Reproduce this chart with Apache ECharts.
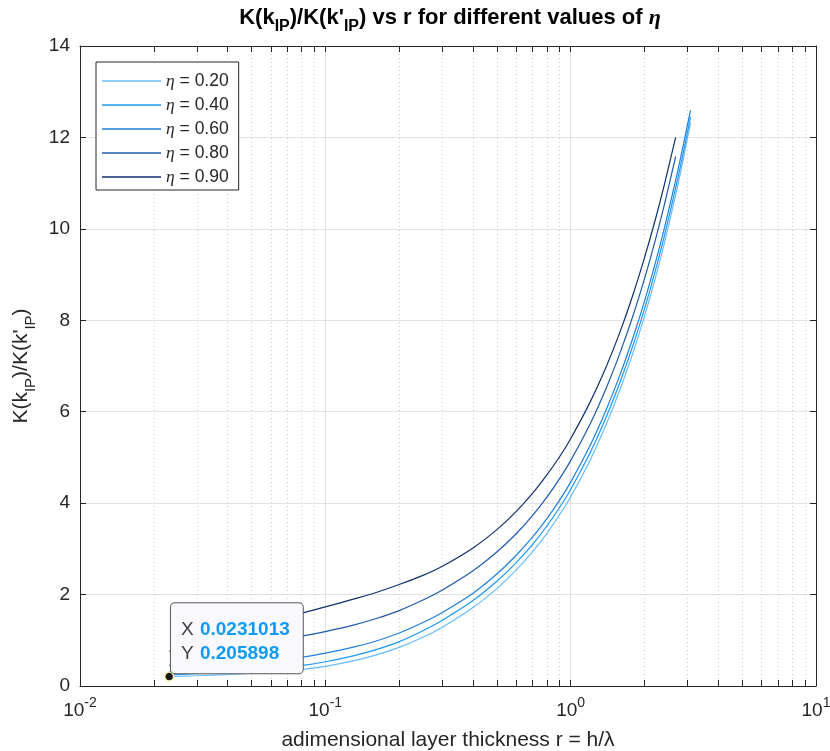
<!DOCTYPE html>
<html>
<head>
<meta charset="utf-8">
<script src="https://cdn.jsdelivr.net/npm/echarts@6/dist/echarts.min.js"></script>
<style>
  html, body { margin: 0; padding: 0; background: #ffffff; }
  #chart { width: 830px; height: 751px; }
</style>
</head>
<body>
<div id="chart"></div>
<script>
// Layer thickness r = h/lambda (shared abscissa of all curves)
const rValues = [0.0231013, 0.03, 0.04, 0.05, 0.065, 0.081, 0.1, 0.13, 0.16, 0.2,
                 0.25, 0.3, 0.4, 0.5, 0.6, 0.7, 0.8, 0.9, 1.0, 1.2,
                 1.4, 1.6, 1.8, 2.0, 2.2, 2.4, 2.678, 2.8, 3.0, 3.08];

// K(k_IP)/K(k'_IP) for each metallization ratio eta
const ratioEta020 = [0.205898, 0.224, 0.251, 0.279, 0.32, 0.363, 0.43, 0.55, 0.675, 0.845,
                     1.065, 1.285, 1.715, 2.13, 2.54, 2.94, 3.34, 3.74, 4.14, 4.94,
                     5.74, 6.53, 7.31, 8.09, 8.87, 9.65, 10.74, 11.22, 12.01, 12.32];
const ratioEta040 = [0.245, 0.27, 0.305, 0.34, 0.39, 0.45, 0.53, 0.66, 0.79, 0.97,
                     1.21, 1.44, 1.87, 2.29, 2.70, 3.10, 3.50, 3.90, 4.30, 5.10,
                     5.90, 6.69, 7.47, 8.25, 9.03, 9.81, 10.89, 11.36, 12.14, 12.45];
const ratioEta060 = [0.32, 0.365, 0.425, 0.48, 0.555, 0.63, 0.72, 0.85, 0.98, 1.16,
                     1.39, 1.61, 2.03, 2.45, 2.86, 3.26, 3.66, 4.06, 4.46, 5.26,
                     6.06, 6.85, 7.64, 8.42, 9.20, 9.98, 11.06, 11.53, 12.30, 12.59];
const ratioEta080 = [0.45, 0.60, 0.75, 0.87, 0.995, 1.095, 1.19, 1.33, 1.47, 1.65,
                     1.88, 2.10, 2.52, 2.93, 3.33, 3.73, 4.13, 4.53, 4.93, 5.73,
                     6.53, 7.33, 8.12, 8.91, 9.70, 10.49, 11.58, null, null, null];
const ratioEta090 = [0.76, 0.94, 1.14, 1.29, 1.455, 1.60, 1.73, 1.90, 2.04, 2.22,
                     2.42, 2.62, 3.02, 3.42, 3.82, 4.22, 4.62, 5.01, 5.41, 6.21,
                     7.00, 7.79, 8.58, 9.37, 10.15, 10.93, 12.00, null, null, null];

const etaValues = ['0.20', '0.40', '0.60', '0.80', '0.90'];
const lineColors = ['#66bcff', '#1a98f5', '#1f7fdc', '#1f5aaa', '#10306e'];

// Decade tick exponents of the log axis (10^-2 ... 10^1)
const xTickExponents = ['-2', '-1', '0', '1'];

// Data cursor
const dataTipPoint = [0.0231013, 0.205898];

const curves = [ratioEta020, ratioEta040, ratioEta060, ratioEta080, ratioEta090];
const seriesNames = etaValues.map(v => 'η = ' + v);

const TEXT = '#262626';
const GRID = '#e1e1e1';
const FONT = '"Liberation Sans", Arial, Helvetica, sans-serif';

const chart = echarts.init(document.getElementById('chart'), null, { renderer: 'canvas' });

const lineSeries = curves.map((ys, i) => ({
  name: seriesNames[i],
  type: 'line',
  xAxisIndex: 0,
  yAxisIndex: 0,
  data: rValues.map((r, j) => [r, ys[j]]).filter(p => p[1] !== null),
  symbol: 'none',
  smooth: 0.3,
  lineStyle: { color: lineColors[i], width: 1.2 },
  itemStyle: { color: lineColors[i] },
  emphasis: { disabled: true },
  z: 3
}));

const tipSeries = {
  name: 'datatip',
  type: 'scatter',
  xAxisIndex: 0,
  yAxisIndex: 0,
  data: [dataTipPoint],
  symbol: 'circle',
  symbolSize: 9,
  silent: true,
  z: 20,
  itemStyle: { color: '#1a1a1a', borderColor: '#fff4b8', borderWidth: 1.5, opacity: 1 },
  emphasis: { disabled: true },
  label: {
    show: true,
    opacity: 1,
    position: [7, 2],
    align: 'left',
    verticalAlign: 'bottom',
    backgroundColor: '#f8f8fd',
    borderColor: '#5a5a5a',
    borderWidth: 1,
    borderRadius: 4,
    padding: [14, 13, 8, 10],
    formatter: p => '{k|X}{v|' + p.value[0] + '}\n{k|Y}{v|' + p.value[1] + '}',
    rich: {
      k: { fontSize: 19, color: '#404040', lineHeight: 24, width: 19 },
      v: { fontSize: 19, fontWeight: 'bold', color: '#0f9bf5', lineHeight: 24 }
    }
  }
};

const subRich = (size, bold) => ({
  n: { fontSize: size, fontWeight: bold ? 'bold' : 'normal', verticalAlign: 'top' },
  s: { fontSize: Math.round(size * 0.72), fontWeight: bold ? 'bold' : 'normal',
       verticalAlign: 'top', padding: [Math.round(size * 0.55), 0, 0, 0] },
  e: { fontSize: size, fontWeight: bold ? 'bold' : 'normal', fontStyle: 'italic',
       fontFamily: '"Liberation Serif", "DejaVu Serif", serif', verticalAlign: 'top' }
});

const option = {
  animation: false,
  backgroundColor: '#ffffff',
  textStyle: { fontFamily: FONT },
  title: {
    text: "{n|K(k}{s|IP}{n|)/K(k'}{s|IP}{n|) vs r for different values of }{e|η}",
    left: 445,
    top: 2,
    textAlign: 'center',
    textStyle: { fontSize: 22, fontWeight: 'bold', color: '#000000', rich: subRich(22, true) }
  },
  grid: { left: 80, right: 14, top: 46, bottom: 65, outerBoundsMode: 'none' },
  legend: {
    data: seriesNames,
    orient: 'vertical',
    left: 96,
    top: 62,
    padding: [10, 10, 4, 6],
    icon: 'rect',
    itemWidth: 59,
    itemHeight: 1.3,
    itemGap: 6,
    backgroundColor: '#ffffff',
    borderColor: TEXT,
    borderWidth: 1,
    borderRadius: 0,
    selectedMode: false,
    formatter: name => '{e|η}' + name.slice(1),
    textStyle: {
      fontSize: 17.5, color: TEXT, lineHeight: 18,
      rich: { e: { fontSize: 17.5, fontStyle: 'italic', fontFamily: '"Liberation Serif", serif', color: TEXT } }
    }
  },
  xAxis: [{
    type: 'log',
    logBase: 10,
    min: 0.01,
    max: 10,
    position: 'bottom',
    name: 'adimensional layer thickness r = h/λ',
    nameLocation: 'middle',
    nameGap: 44,
    nameTextStyle: { fontSize: 21, color: TEXT },
    axisLine: { show: true, onZero: false, lineStyle: { color: TEXT, width: 1 } },
    axisTick: { show: true, inside: true, length: 6, lineStyle: { color: TEXT, width: 1 } },
    minorTick: { show: true, splitNumber: 9, length: 6, lineStyle: { color: TEXT, width: 1 } },
    axisLabel: {
      margin: 10,
      color: TEXT,
      formatter: v => '{b|10}{p|' + xTickExponents[Math.round(Math.log10(v)) + 2] + '}',
      rich: {
        b: { fontSize: 19, color: TEXT, verticalAlign: 'top', padding: [5, 0, 0, 0] },
        p: { fontSize: 14, color: TEXT, verticalAlign: 'top' }
      }
    },
    splitLine: { show: true, lineStyle: { color: GRID, width: 1 } },
    minorSplitLine: { show: true, lineStyle: { color: '#c9c9c9', width: 1, type: [1, 3] } }
  }, {
    type: 'log',
    logBase: 10,
    min: 0.01,
    max: 10,
    position: 'top',
    axisLine: { show: true, onZero: false, lineStyle: { color: TEXT, width: 1 } },
    axisTick: { show: true, inside: true, length: 6, lineStyle: { color: TEXT, width: 1 } },
    minorTick: { show: true, splitNumber: 9, length: 6, lineStyle: { color: TEXT, width: 1 } },
    axisLabel: { show: false },
    splitLine: { show: false },
    minorSplitLine: { show: false }
  }],
  yAxis: [{
    type: 'value',
    min: 0,
    max: 14,
    interval: 2,
    position: 'left',
    name: "{n|K(k}{s|IP}{n|)/K(k'}{s|IP}{n|)}",
    nameLocation: 'middle',
    nameRotate: 90,
    nameGap: 42,
    nameTextStyle: { fontSize: 21, color: TEXT, rich: subRich(21, false) },
    axisLine: { show: true, onZero: false, lineStyle: { color: TEXT, width: 1 } },
    axisTick: { show: true, inside: true, length: 6, lineStyle: { color: TEXT, width: 1 } },
    axisLabel: { margin: 10, fontSize: 19, color: TEXT },
    splitLine: { show: true, lineStyle: { color: GRID, width: 1 } }
  }, {
    type: 'value',
    min: 0,
    max: 14,
    interval: 2,
    position: 'right',
    axisLine: { show: true, onZero: false, lineStyle: { color: TEXT, width: 1 } },
    axisTick: { show: true, inside: true, length: 6, lineStyle: { color: TEXT, width: 1 } },
    axisLabel: { show: false },
    splitLine: { show: false }
  }],
  series: lineSeries.concat([tipSeries])
};

chart.setOption(option);
</script>
</body>
</html>
